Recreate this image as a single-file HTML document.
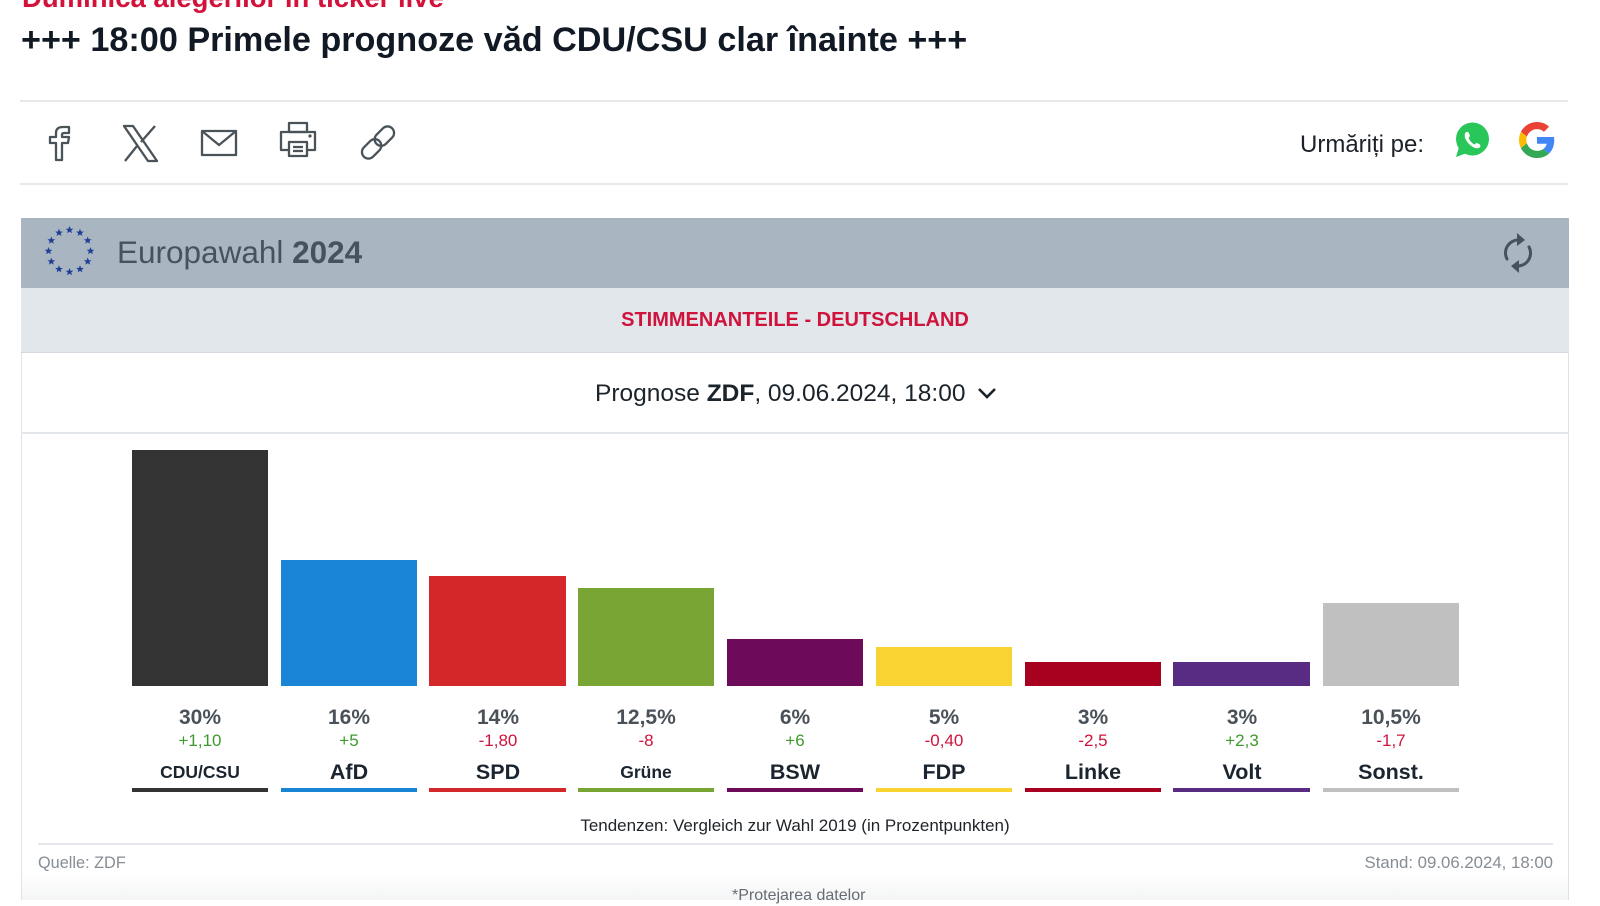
<!DOCTYPE html>
<html><head><meta charset="utf-8">
<style>
*{margin:0;padding:0;box-sizing:border-box}
html,body{width:1600px;height:900px;overflow:hidden;background:#fff;font-family:"Liberation Sans",Arial,sans-serif}
.a{position:absolute;white-space:nowrap}
.c{text-align:center}
.val{font-weight:bold;font-size:21px;color:#4a5159;line-height:24px;width:140px}
.chg{font-size:17px;line-height:20px;width:140px}
.nm{font-weight:bold;color:#1b2530;line-height:26px;width:140px}
.g{color:#3d9a2b}.r{color:#d0133c}
.bar{position:absolute}
.ul{position:absolute;height:4px;top:788px}
</style></head><body>

<div class="a" style="left:22px;top:-18px;font-size:27.5px;line-height:32px;font-weight:bold;color:#d3123b">Duminica alegerilor în ticker live</div>
<div class="a" style="left:21px;top:19px;font-size:34.2px;line-height:42px;font-weight:bold;color:#111a24">+++ 18:00 Primele prognoze văd CDU/CSU clar înainte +++</div>

<div class="a" style="left:20px;top:100px;width:1548px;height:2px;background:#e6e8eb"></div>
<div class="a" style="left:20px;top:183px;width:1548px;height:2px;background:#e6e8eb"></div>

<svg class="a" style="left:0;top:0" width="420" height="190" viewBox="0 0 420 190">
 <g fill="none" stroke="#4a5359" stroke-width="2.3" stroke-linejoin="round">
  <path d="M56,160 V143 H50 V137 H56 V133 Q56,127 63,127 H69 V133 H64 Q62,133 62,135 V137 H69 L68,143 H62 V160 Z"/>
  <path d="M124,126 H133 L157,161 H148 Z"/>
  <line x1="155" y1="126" x2="141" y2="142"/>
  <line x1="137" y1="146" x2="125" y2="161"/>
  <rect x="202" y="131" width="34" height="24"/>
  <polyline points="202,131 219,145 236,131"/>
  <rect x="289" y="123" width="18" height="9"/>
  <path d="M289,150 H281 V132 H315 V150 H307"/>
  <rect x="289" y="142" width="18" height="14"/>
  <line x1="293" y1="147" x2="303" y2="147"/>
  <line x1="293" y1="151" x2="303" y2="151"/>
  <g transform="rotate(-45 378 142.5)">
   <rect x="358" y="136" width="22" height="13" rx="6.5"/>
   <rect x="376" y="136" width="22" height="13" rx="6.5"/>
  </g>
 </g>
 <circle cx="310" cy="136" r="1.6" fill="#4a5359"/>
</svg>

<div class="a" style="left:1300px;top:131px;font-size:24px;line-height:28px;color:#1c2229">Urmăriți pe:</div>
<svg class="a" style="left:1453px;top:121px" width="38" height="38" viewBox="0 0 38 38">
 <circle cx="19.5" cy="18" r="16.5" fill="#29c65a"/>
 <path d="M6,26 L3,36 L14,32 Z" fill="#29c65a"/>
 <path d="M13,11 Q11,13 12,17 Q15,24 22,27 Q26,28 27.5,25.5 L27,23.5 L23.5,21.8 L21.5,23.5 Q17.5,21.5 15.5,17 L17,15 L15.5,11.3 Z" fill="#fff"/>
</svg>
<svg class="a" style="left:1519px;top:122px" width="36" height="36" viewBox="0 0 48 48">
<path fill="#EA4335" d="M24 9.5c3.54 0 6.71 1.22 9.21 3.6l6.85-6.85C35.9 2.38 30.47 0 24 0 14.62 0 6.51 5.38 2.56 13.22l7.98 6.19C12.430 13.72 17.74 9.5 24 9.5z"/>
<path fill="#4285F4" d="M46.98 24.55c0-1.570-.15-3.090-.38-4.55H24v9.020h12.94c-.58 2.96-2.26 5.48-4.780 7.18l7.73 6c4.51-4.18 7.09-10.36 7.09-17.650z"/>
<path fill="#FBBC05" d="M10.53 28.59c-.48-1.45-.76-2.99-.76-4.59s.27-3.14.76-4.59l-7.98-6.19C.92 16.46 0 20.12 0 24c0 3.88.92 7.54 2.56 10.78l7.97-6.19z"/>
<path fill="#34A853" d="M24 48c6.48 0 11.930-2.13 15.89-5.81l-7.73-6c-2.15 1.45-4.92 2.3-8.16 2.3-6.26 0-11.57-4.22-13.47-9.91l-7.98 6.19C6.51 42.62 14.62 48 24 48z"/>
</svg>

<div class="a" style="left:21px;top:218px;width:1548px;height:682px;border-left:1px solid #dfe3e7;border-right:1px solid #dfe3e7;background:linear-gradient(to bottom,#fff 0,#fff 655px,#f4f5f6 682px)"></div>
<div class="a" style="left:21px;top:218px;width:1548px;height:70px;background:#a9b6c1"></div>
<div class="a" style="left:21px;top:288px;width:1548px;height:65px;background:#e2e7eb;border-bottom:1px solid #d3d9de"></div>
<div class="a" style="left:21px;top:432px;width:1548px;height:2px;background:#e3e6ea"></div>

<svg class="a" style="left:40px;top:222px" width="60" height="60" viewBox="0 0 60 60">
 <defs><polygon id="st" points="0,-4 1.1,-1.3 3.9,-1.2 1.7,0.5 2.4,3.2 0,1.6 -2.4,3.2 -1.7,0.5 -3.9,-1.2 -1.1,-1.3" fill="#1f3f95"/></defs>
 <use href="#st" x="29.5" y="8"/><use href="#st" x="40" y="10.8"/><use href="#st" x="47.7" y="18.5"/>
 <use href="#st" x="50.5" y="29"/><use href="#st" x="47.7" y="39.5"/><use href="#st" x="40" y="47.2"/>
 <use href="#st" x="29.5" y="50"/><use href="#st" x="19" y="47.2"/><use href="#st" x="11.3" y="39.5"/>
 <use href="#st" x="8.5" y="29"/><use href="#st" x="11.3" y="18.5"/><use href="#st" x="19" y="10.8"/>
</svg>
<div class="a" style="left:117px;top:234px;font-size:31.5px;line-height:37px;color:#46525d">Europawahl <b>2024</b></div>
<svg class="a" style="left:1500px;top:231px" width="36" height="44" viewBox="0 0 36 44">
 <g fill="none" stroke="#46525d" stroke-width="3" stroke-linecap="round">
  <path d="M20,9 A13,13 0 0 0 7,28"/>
  <path d="M16,35 A13,13 0 0 0 29,16"/>
 </g>
 <polygon points="17,2 25,9 17,15" fill="#46525d"/>
 <polygon points="19,29 11,35 19,42" fill="#46525d"/>
</svg>

<div class="a c" style="left:495px;top:308px;width:600px;font-size:20px;line-height:24px;font-weight:bold;color:#d0133c">STIMMENANTEILE - DEUTSCHLAND</div>
<div class="a" style="left:595px;top:379px;font-size:24.5px;line-height:30px;color:#1b232b">Prognose <b>ZDF</b>, 09.06.2024, 18:00</div>
<svg class="a" style="left:976px;top:386px" width="22" height="14" viewBox="0 0 22 14"><polyline points="3,3 11,11 19,3" fill="none" stroke="#1b232b" stroke-width="2.6"/></svg>

<div class="bar" style="left:132px;top:450px;width:136px;height:236px;background:#333333"></div>
<div class="bar" style="left:281px;top:560px;width:136px;height:126px;background:#1a84d6"></div>
<div class="bar" style="left:429px;top:576px;width:137px;height:110px;background:#d4272a"></div>
<div class="bar" style="left:578px;top:588px;width:136px;height:98px;background:#78a534"></div>
<div class="bar" style="left:727px;top:639px;width:136px;height:47px;background:#6e0a5a"></div>
<div class="bar" style="left:876px;top:647px;width:136px;height:39px;background:#f8d332"></div>
<div class="bar" style="left:1025px;top:662px;width:136px;height:24px;background:#a8001f"></div>
<div class="bar" style="left:1173px;top:662px;width:137px;height:24px;background:#582c83"></div>
<div class="bar" style="left:1323px;top:603px;width:136px;height:83px;background:#c0c0c0"></div>

<div class="ul" style="left:132px;width:136px;background:#333333"></div>
<div class="ul" style="left:281px;width:136px;background:#1a84d6"></div>
<div class="ul" style="left:429px;width:137px;background:#d4272a"></div>
<div class="ul" style="left:578px;width:136px;background:#78a534"></div>
<div class="ul" style="left:727px;width:136px;background:#6e0a5a"></div>
<div class="ul" style="left:876px;width:136px;background:#f8d332"></div>
<div class="ul" style="left:1025px;width:136px;background:#a8001f"></div>
<div class="ul" style="left:1173px;width:137px;background:#582c83"></div>
<div class="ul" style="left:1323px;width:136px;background:#c0c0c0"></div>

<div class="a c val" style="left:130px;top:706px">30%</div>
<div class="a c val" style="left:279px;top:706px">16%</div>
<div class="a c val" style="left:428px;top:706px">14%</div>
<div class="a c val" style="left:576px;top:706px">12,5%</div>
<div class="a c val" style="left:725px;top:706px">6%</div>
<div class="a c val" style="left:874px;top:706px">5%</div>
<div class="a c val" style="left:1023px;top:706px">3%</div>
<div class="a c val" style="left:1172px;top:706px">3%</div>
<div class="a c val" style="left:1321px;top:706px">10,5%</div>

<div class="a c chg g" style="left:130px;top:731px">+1,10</div>
<div class="a c chg g" style="left:279px;top:731px">+5</div>
<div class="a c chg r" style="left:428px;top:731px">-1,80</div>
<div class="a c chg r" style="left:576px;top:731px">-8</div>
<div class="a c chg g" style="left:725px;top:731px">+6</div>
<div class="a c chg r" style="left:874px;top:731px">-0,40</div>
<div class="a c chg r" style="left:1023px;top:731px">-2,5</div>
<div class="a c chg g" style="left:1172px;top:731px">+2,3</div>
<div class="a c chg r" style="left:1321px;top:731px">-1,7</div>

<div class="a c nm" style="left:130px;top:759px;font-size:17.5px">CDU/CSU</div>
<div class="a c nm" style="left:279px;top:759px;font-size:21.5px">AfD</div>
<div class="a c nm" style="left:428px;top:759px;font-size:21.5px">SPD</div>
<div class="a c nm" style="left:576px;top:759px;font-size:17.5px">Grüne</div>
<div class="a c nm" style="left:725px;top:759px;font-size:21.5px">BSW</div>
<div class="a c nm" style="left:874px;top:759px;font-size:21.5px">FDP</div>
<div class="a c nm" style="left:1023px;top:759px;font-size:21.5px">Linke</div>
<div class="a c nm" style="left:1172px;top:759px;font-size:21.5px">Volt</div>
<div class="a c nm" style="left:1321px;top:759px;font-size:21.5px">Sonst.</div>

<div class="a c" style="left:495px;top:815px;width:600px;font-size:17px;line-height:22px;color:#1e2429">Tendenzen: Vergleich zur Wahl 2019 (in Prozentpunkten)</div>
<div class="a" style="left:38px;top:843px;width:1515px;height:2px;background:#e4e7eb"></div>
<div class="a" style="left:38px;top:852px;font-size:16.3px;line-height:22px;color:#868d94">Quelle: ZDF</div>
<div class="a" style="left:1253px;top:852px;width:300px;text-align:right;font-size:16.8px;line-height:22px;color:#868d94">Stand: 09.06.2024, 18:00</div>
<div class="a" style="left:732px;top:886px;font-size:16px;line-height:20px;color:#666c72">*Protejarea datelor</div>
</body></html>
